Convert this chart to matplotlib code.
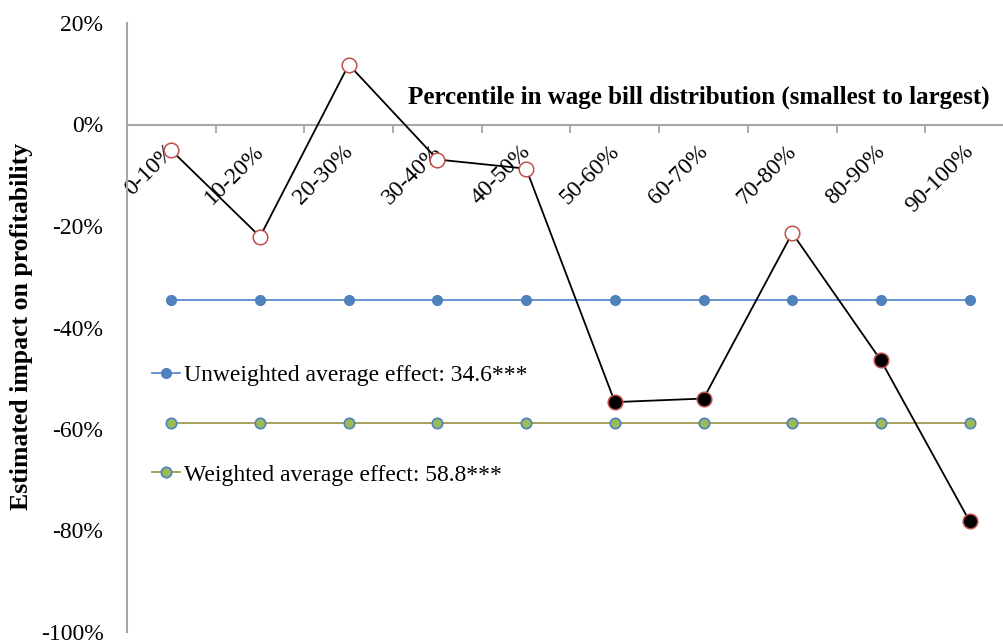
import matplotlib
matplotlib.use("Agg")
import matplotlib.pyplot as plt
from matplotlib.lines import Line2D
import matplotlib.transforms as mtransforms
import numpy as np

categories = ["0-10%", "10-20%", "20-30%", "30-40%", "40-50%",
              "50-60%", "60-70%", "70-80%", "80-90%", "90-100%"]
effects = [-5.1, -22.1, 11.8, -6.9, -8.7, -54.7, -54.0, -21.4, -46.5, -78.2]
significant = [False, False, False, False, False, True, True, False, True, True]
unweighted_avg = -34.6
weighted_avg = -58.8
unweighted_label = "Unweighted average effect: 34.6***"
weighted_label = "Weighted average effect: 58.8***"
y_ticks = [20, 0, -20, -40, -60, -80, -100]

plt.rcParams['font.family'] = ['Liberation Serif', 'DejaVu Serif']

W, H = 1004, 641
fig = plt.figure(figsize=(W / 100, H / 100), dpi=100)
left, right, top, bottom = 127, 1014, 23, 632
ax = fig.add_axes([left / W, 1 - bottom / H, (right - left) / W, (bottom - top) / H])

x = np.arange(len(categories)) + 0.5
n = len(categories)

blue = "#4F81BD"
green = "#9BBB59"
olive = "#A09A52"
red = "#C0504D"

ax.plot(x, [unweighted_avg] * n, color="#5B8BD0", lw=1.3, marker='o', ms=7,
        mfc=blue, mec=blue, zorder=2)
ax.plot(x, [weighted_avg] * n, color=olive, lw=1.3, marker='o', ms=7.5,
        mfc=green, mec=blue, mew=1.2, zorder=2)
ax.plot(x, effects, color="black", lw=1.3, zorder=3)
for xi, yi, s in zip(x, effects, significant):
    ax.plot(xi, yi, marker='o', ms=10.5, mfc="black" if s else "white",
            mec=red, mew=1.1, zorder=4)

ax.set_xlim(0, n)
ax.set_ylim(-100, 20)
ax.set_yticks(y_ticks)
ax.set_yticklabels([f"{v}%" for v in y_ticks], fontsize=17)
ax.tick_params(axis='y', length=0, pad=17)

ax.spines['top'].set_visible(False)
ax.spines['right'].set_visible(False)
ax.spines['bottom'].set_position(('data', 0))
ax.spines['bottom'].set_color("#A6A6A6")
ax.spines['left'].set_color("#A6A6A6")
ax.spines['bottom'].set_linewidth(1.5)
ax.spines['left'].set_linewidth(1.5)

ax.set_xticks(x)
ax.set_xticklabels(categories, fontsize=17, rotation=45, ha='right', va='center',
                   rotation_mode='anchor')
ax.set_xticks(np.arange(0, n + 1), minor=True)
ax.tick_params(axis='x', which='major', length=0, pad=17)
ax.tick_params(axis='x', which='minor', length=6, width=1.3, color="#A6A6A6", direction='out')
offset = mtransforms.ScaledTranslation(1 / 100, 0, fig.dpi_scale_trans)
for lab in ax.get_xticklabels():
    lab.set_transform(lab.get_transform() + offset)

fig.text(990 / W, 1 - 97 / H, "Percentile in wage bill distribution (smallest to largest)",
         fontsize=18, fontweight='bold', ha='right', va='center')

fig.text(22 / W, 1 - 326 / H, "Estimated impact on profitability", fontsize=18.5,
         fontweight='bold', rotation=90, ha='center', va='center')

h1 = Line2D([], [], color="#5B8BD0", lw=1.3, marker='o', ms=7, mfc=blue, mec=blue)
h2 = Line2D([], [], color=olive, lw=1.3, marker='o', ms=7.5, mfc=green, mec=blue, mew=1.2)
leg_kw = dict(loc='center left', bbox_transform=fig.transFigure, frameon=False,
              fontsize=17, handlelength=1.2, handletextpad=0.15,
              borderpad=0, borderaxespad=0)
leg1 = ax.legend([h1], [unweighted_label], bbox_to_anchor=(152 / W, 1 - 375 / H), **leg_kw)
ax.add_artist(leg1)
ax.legend([h2], [weighted_label], bbox_to_anchor=(152 / W, 1 - 475 / H), **leg_kw)

fig.savefig("out.png", dpi=100)
